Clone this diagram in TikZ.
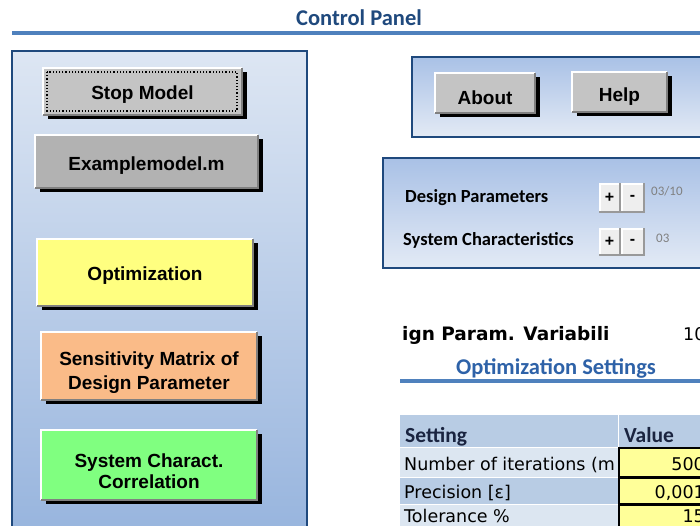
\documentclass[tikz,border=0pt]{standalone}
\usepackage{fontspec}
\setmainfont{Liberation Sans}
\newfontfamily\calfont{Carlito}
\newfontfamily\cellfont{DejaVu Sans}
\usetikzlibrary{positioning}
\definecolor{panelline}{HTML}{1F497D}
\definecolor{titleblue}{HTML}{1F497D}
\definecolor{setblue}{HTML}{2E62A8}
\definecolor{rulerblue}{HTML}{4F81BD}
\definecolor{paneltop}{HTML}{DDE6F3}
\definecolor{panelbottom}{HTML}{98B5DE}
\definecolor{boxtop}{HTML}{A9C1E6}
\definecolor{boxbottom}{HTML}{E3EAF5}
\definecolor{headblue}{HTML}{B8CCE4}
\definecolor{rowblue}{HTML}{DCE6F1}
\definecolor{cellyellow}{HTML}{FFFF99}
\definecolor{btngray}{HTML}{C4C4C4}
\definecolor{modelgray}{HTML}{B2B2B2}
\definecolor{optyellow}{HTML}{FFFF80}
\definecolor{sensorange}{HTML}{FABB88}
\definecolor{corrgreen}{HTML}{80FF80}
\definecolor{pmgray}{HTML}{EEEEEE}
\definecolor{headtext}{HTML}{1A2440}
% name, x1, y1, x2, y2, fill, text, text drop
\newcommand{\xlbutton}[8]{%
	\fill[black] (#2+5,#3+4) rectangle (#4+5,#5+4);
	\fill[#6] (#2,#3) rectangle (#4,#5);
	\draw[white, line width=1.5] (#2,#5) -- (#2,#3) -- (#4,#3);
	\draw[black!50, line width=1.5] (#2,#5) -- (#4,#5) -- (#4,#3);
	\node[btnlabel] (#1) at ({(#2+#4)/2},{(#3+#5)/2+#8}) {#7};
}
\newcommand{\pmbutton}[6]{%
	\fill[pmgray] (#2,#3) rectangle (#4,#5);
	\draw[white, line width=1.5] (#2+1,#5-1) -- (#2+1,#3+1) -- (#4-1,#3+1);
	\draw[black!40, line width=1.2] (#2,#5) -- (#4,#5) -- (#4,#3);
	\node[pmlabel] (#1) at ({(#2+#4)/2},{(#3+#5)/2}) {#6};
}

\begin{document}
\begin{tikzpicture}[x=1pt, y=-1pt,
	btnlabel/.style={font=\bfseries\fontsize{19}{24}\selectfont, align=center, inner sep=0pt},
	pmlabel/.style={font=\bfseries\fontsize{16}{18}\selectfont, inner sep=0pt},
	headline/.style={font=\calfont\bfseries\fontsize{22.5}{26}\selectfont, inner sep=0pt},
	boxlabel/.style={font=\calfont\bfseries\fontsize{18.5}{22}\selectfont, inner sep=0pt, anchor=base west},
	counter/.style={font=\calfont\fontsize{13}{15}\selectfont, text=black!50, inner sep=0pt, anchor=base west},
	celltext/.style={font=\cellfont\fontsize{17.5}{20}\selectfont, inner sep=0pt},
	tablehead/.style={font=\calfont\bfseries\fontsize{21.5}{24}\selectfont, text=headtext, inner sep=0pt, anchor=base west}]
	\useasboundingbox (0,0) rectangle (700,526);
	\clip (0,0) rectangle (700,526);
	\fill[white] (0,0) rectangle (700,526);
	% title
	\node[headline, text=titleblue, anchor=base] (cptitle) at (359,25.5) {Control Panel};
	\draw[rulerblue, line width=4] (12,33) -- (700,33);
	% left panel
	\shade[top color=paneltop, bottom color=panelbottom] (12,51) rectangle (307,530);
	\draw[panelline, line width=2.5] (12,535) -- (12,51) -- (307,51) -- (307,535);
	\xlbutton{stopbtn}{43}{68}{242}{115}{btngray}{Stop Model}{3.5}
	\draw[black, dotted, line width=1.2] (47,72) rectangle (237,111);
	\xlbutton{modelbtn}{35}{135}{258}{188}{modelgray}{Examplemodel.m}{4.5}
	\xlbutton{optbtn}{37}{239}{253}{306}{optyellow}{Optimization}{3.5}
	\xlbutton{sensbtn}{41}{332}{257}{400}{sensorange}{Sensitivity Matrix of\\Design Parameter}{6.5}
	\xlbutton{corrbtn}{41}{430}{257}{500}{corrgreen}{System Charact.\\[-3pt]Correlation}{6.5}
	% about / help box
	\shade[top color=boxtop, bottom color=boxbottom] (412,57) rectangle (712,137);
	\draw[panelline, line width=2.5] (412,57) rectangle (712,137);
	\xlbutton{aboutbtn}{435}{73}{535}{113}{btngray}{About}{5}
	\xlbutton{helpbtn}{572}{72}{667}{112}{btngray}{Help}{5}
	% counters box
	\shade[top color=boxtop, bottom color=boxbottom] (383,158) rectangle (712,268);
	\draw[panelline, line width=2.5] (383,158) rectangle (712,268);
	\node[boxlabel] (dplabel) at (405,203) {Design Parameters};
	\node[boxlabel] (sclabel) at (403,245) {System Characteristics};
	\foreach \ya/\yb/\rowname in {183/212/dp, 228/255/sc}{
		\pmbutton{plus\rowname}{599}{\ya}{620}{\yb}{+}
		\pmbutton{minus\rowname}{621}{\ya}{644}{\yb}{-}
	}
	\node[counter] (dpcount) at (651,196) {03/10};
	\node[counter] (sccount) at (656,243) {03};
	% settings
	\node[celltext, font=\cellfont\bfseries\fontsize{18.5}{20}\selectfont, anchor=base west] (varlabel) at (402,340) {ign Param. Variabili};
	\node[celltext, anchor=base west] (varvalue) at (683,340) {10};
	\node[headline, text=setblue, anchor=base] (ostitle) at (556,374) {Optimization Settings};
	\draw[rulerblue, line width=3.5] (400,381) -- (700,381);
	\fill[headblue] (400,415) rectangle (617.5,447);
	\fill[headblue] (619,415) rectangle (720,447);
	\node[tablehead] (sethead) at (405,442) {Setting};
	\node[tablehead] (valhead) at (624,442) {Value};
	\foreach \ya/\yb/\band/\lbl/\val/\base in {448/477/rowblue/{Number of iterations (m}/500/470,
		478/504/headblue/{Precision [ε]}/{0,001}/498, 505/540/rowblue/{Tolerance \%}/15/522}{
		\fill[\band] (400,\ya) rectangle (617.5,\yb);
		\fill[cellyellow] (619,\ya) rectangle (720,\yb);
		\draw[black, line width=1.5] (619,\ya) rectangle (720,\yb);
		\node[celltext, anchor=base west] (lbl\ya) at (404,\base) {\lbl};
		\node[celltext, anchor=base east] (val\ya) at (705,\base) {\val};
	}
\end{tikzpicture}
\end{document}
